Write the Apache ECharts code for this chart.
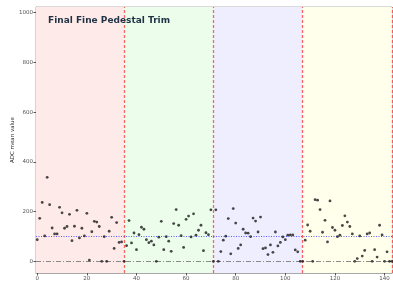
<!DOCTYPE html>
<html>
<head>
<meta charset="utf-8">
<script src="https://cdn.jsdelivr.net/npm/echarts@6/dist/echarts.min.js"></script>
<style>
  html, body { margin: 0; padding: 0; background: #fff; }
  #chart { width: 393px; height: 283px; }
</style>
</head>
<body>
<div id="chart"></div>
<script>
// ADC mean value per channel (channel = index)
const adcMean = [
  87, 173, 237, 102, 338, 228, 134, 110, 110, 217, 195, 133, 140, 189, 83, 141, 205, 94,
  133, 102, 193, 5, 119, 161, 158, 140, 0, 99, 0, 121, 177, 52, 156, 76, 78, 0,
  63, 164, 74, 114, 47, 107, 137, 129, 87, 75, 81, 66, 0, 97, 161, 47, 99, 81,
  40, 152, 208, 145, 103, 56, 169, 182, 98, 191, 105, 125, 145, 43, 115, 107, 207, 0,
  207, 0, 39, 85, 101, 172, 30, 212, 154, 52, 66, 129, 114, 113, 99, 174, 162, 118,
  178, 51, 54, 27, 66, 36, 118, 62, 76, 98, 87, 105, 106, 106, 46, 38, 0, 0,
  85, 146, 121, 0, 248, 246, 208, 117, 165, 78, 243, 136, 125, 99, 105, 144, 183, 158,
  140, 110, 0, 11, 102, 21, 44, 110, 114, 0, 47, 17, 145, 106, 0, 38, 0, 0
]

// group boundaries (channel) and their background colours
const groupStart = [-0.5, 35, 71, 107]
const groupEnd = [35, 71, 107, 143]
const groupColors = ['#ffeaea', '#ecfdec', '#eeeeff', '#ffffec']

const targetLevel = 100
const zeroLevel = 0

const chart = echarts.init(document.getElementById('chart'))

const option = {
  animation: false,
  title: {
    text: 'Final Fine Pedestal Trim',
    left: 43,
    top: 11,
    textStyle: {
      fontFamily: 'DejaVu Sans',
      fontSize: 9,
      fontWeight: 'bold',
      color: '#1f3344'
    }
  },
  grid: {
    left: 36,
    right: 1,
    top: 7,
    bottom: 10,
    outerBoundsMode: 'none',
    containLabel: false,
    show: true,
    borderColor: '#b4b4b4',
    borderWidth: 1
  },
  xAxis: {
    type: 'value',
    min: -0.5,
    max: 143,
    minInterval: 20,
    maxInterval: 20,
    splitLine: { show: false },
    axisLine: { show: true, onZero: false, lineStyle: { color: '#a8a8a8', width: 1.2 } },
    axisTick: { show: true, length: 2.5, lineStyle: { color: '#555' } },
    axisLabel: {
      fontFamily: 'DejaVu Sans',
      fontSize: 5.5,
      color: '#555',
      margin: 3,
      showMinLabel: false,
      showMaxLabel: false,
      formatter: v => (v % 20 === 0 ? String(v) : '')
    }
  },
  yAxis: {
    type: 'value',
    min: -47,
    max: 1023,
    minInterval: 200,
    maxInterval: 200,
    name: 'ADC mean value',
    nameLocation: 'middle',
    nameGap: 20,
    nameMoveOverlap: false,
    nameTextStyle: { fontFamily: 'DejaVu Sans', fontSize: 5.5, color: '#333' },
    splitLine: { show: false },
    axisLine: { show: true, onZero: false, lineStyle: { color: '#a8a8a8', width: 1.2 } },
    axisTick: { show: true, length: 2.5, lineStyle: { color: '#555' } },
    axisLabel: {
      fontFamily: 'DejaVu Sans',
      fontSize: 5.5,
      color: '#555',
      margin: 3,
      showMinLabel: false,
      showMaxLabel: false,
      formatter: v => (v % 200 === 0 ? String(v) : '')
    }
  },
  series: [
    {
      type: 'scatter',
      data: [],
      silent: true,
      markArea: {
        silent: true,
        data: groupStart.map((s, i) => [
          { xAxis: s, itemStyle: { color: groupColors[i] } },
          { xAxis: groupEnd[i] }
        ])
      },
      markLine: {
        silent: true,
        symbol: 'none',
        label: { show: false },
        data: [
          ...groupEnd.map(x => ({
            xAxis: x,
            lineStyle: { color: 'rgba(255,40,40,0.7)', type: [3, 2], width: 1.3 }
          })),
          { yAxis: targetLevel, lineStyle: { color: 'rgba(40,40,255,0.75)', type: [1, 1.5], width: 1.2 } },
          { yAxis: zeroLevel, lineStyle: { color: '#8a8a8a', type: [5, 2, 1, 2], width: 1 } }
        ]
      }
    },
    {
      type: 'scatter',
      z: 5,
      symbol: 'circle',
      symbolSize: 2.8,
      itemStyle: { color: '#1a1a1a' },
      data: adcMean.map((v, i) => [i, v])
    }
  ]
}

chart.setOption(option)
</script>
</body>
</html>
